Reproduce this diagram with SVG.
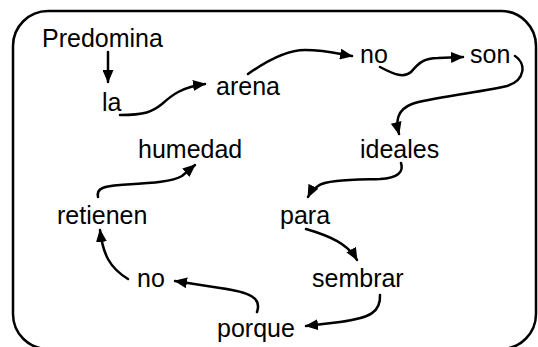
<svg xmlns="http://www.w3.org/2000/svg" width="538" height="347" viewBox="0 0 538 347">
<defs>
<style>
text{font-family:"Liberation Sans",Arial,sans-serif;font-size:25px;fill:#000}
.c path{fill:none;stroke:#000;stroke-width:2.5;stroke-linecap:round}
</style>
<marker id="ah" markerWidth="13" markerHeight="11" refX="12" refY="5.5" orient="auto" markerUnits="userSpaceOnUse">
<path d="M0,0 L13,5.5 L0,11 Z" fill="#000"/>
</marker>
</defs>
<rect x="13" y="11" width="523" height="338" rx="35" ry="35" fill="#fff" stroke="#000" stroke-width="2.5"/>
<g id="n-predomina"><text x="42" y="47">Predomina</text></g>
<g id="n-la"><text x="102" y="111">la</text></g>
<g id="n-arena"><text x="216" y="95">arena</text></g>
<g id="n-no1"><text x="360" y="63">no</text></g>
<g id="n-son"><text x="470" y="63">son</text></g>
<g id="n-ideales"><text x="360" y="158">ideales</text></g>
<g id="n-humedad"><text x="138" y="158">humedad</text></g>
<g id="n-retienen"><text x="57" y="224">retienen</text></g>
<g id="n-para"><text x="280" y="224">para</text></g>
<g id="n-sembrar"><text x="312" y="287">sembrar</text></g>
<g id="n-no2"><text x="137" y="287">no</text></g>
<g id="n-porque"><text x="217" y="337">porque</text></g>
<g class="c" id="connectors">
<path d="M108,52 L108,82" marker-end="url(#ah)"/>
<path d="M120,115 C145,115 152,112 162,104 C172,95 182,87 205,84" marker-end="url(#ah)"/>
<path d="M248,74 C265,62 285,50 305,50 C325,50 340,54 352,56" marker-end="url(#ah)"/>
<path d="M380,67 C395,75 404,78 411,72 C418,64 423,58 438,58 L463,57" marker-end="url(#ah)"/>
<path d="M515,56 C526,63 526,80 507,86 C470,94 430,98 412,104 C396,110 396,122 399,134" marker-end="url(#ah)"/>
<path d="M401,163 C404,172 398,178 380,179 C350,180 325,180 318,186 C312,190 310,193 308,197" marker-end="url(#ah)"/>
<path d="M306,229 C330,236 348,244 357,260" marker-end="url(#ah)"/>
<path d="M380,295 C381,312 370,318 340,322 L306,326" marker-end="url(#ah)"/>
<path d="M257,312 C262,298 250,292 220,288 L175,281" marker-end="url(#ah)"/>
<path d="M128,279 C110,268 103,255 100,230" marker-end="url(#ah)"/>
<path d="M98,197 C96,188 105,186 120,185 C150,183 172,182 182,176 L195,165" marker-end="url(#ah)"/>
</g>
</svg>
